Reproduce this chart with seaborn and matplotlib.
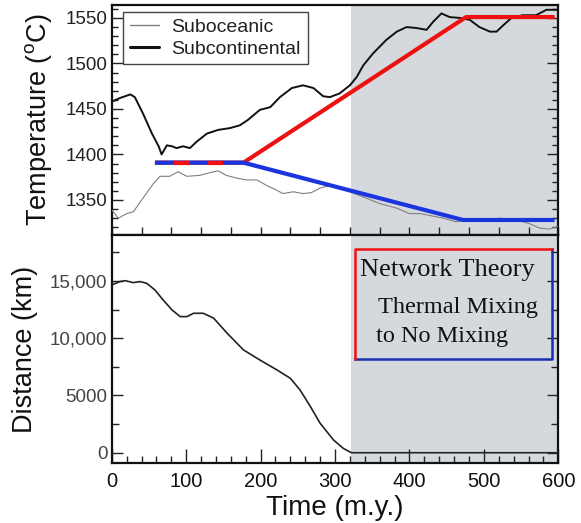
import numpy as np
import pandas as pd
import matplotlib
matplotlib.use("Agg")
import matplotlib.pyplot as plt
from matplotlib.ticker import MultipleLocator, FixedLocator
import seaborn as sns

# ---------------- data ----------------
subcont_t = [0, 11, 25, 31, 42, 54, 63, 67, 74, 81, 87, 96, 105, 114, 128, 143, 159, 172, 183,
             199, 213, 226, 242, 257, 271, 284, 293, 306, 320, 329, 338, 351, 369, 383, 396,
             409, 423, 432, 443, 454, 468, 481, 494, 508, 517, 526, 537, 552, 570, 584, 600]
subcont_T = [1458, 1462, 1466, 1463, 1445, 1423, 1409, 1400, 1410, 1409, 1407, 1409, 1407, 1414,
             1423, 1427, 1429, 1432, 1438, 1449, 1452, 1463, 1473, 1476, 1473, 1464, 1463, 1467,
             1476, 1485, 1498, 1511, 1526, 1535, 1540, 1539, 1537, 1546, 1555, 1551, 1550, 1548,
             1540, 1535, 1535, 1542, 1550, 1553, 1553, 1559, 1559]

subocean_t = [0, 9, 20, 29, 42, 56, 65, 78, 89, 101, 118, 132, 143, 154, 168, 181, 195, 208,
              221, 230, 244, 257, 268, 280, 293, 320, 342, 360, 383, 400, 414, 427, 445, 463,
              481, 504, 521, 544, 561, 575, 588, 600]
subocean_T = [1339, 1330, 1335, 1337, 1352, 1368, 1376, 1376, 1381, 1376, 1377, 1380, 1382, 1377,
              1374, 1372, 1372, 1366, 1361, 1357, 1359, 1357, 1358, 1363, 1366, 1359, 1352, 1346,
              1341, 1335, 1335, 1333, 1330, 1326, 1328, 1328, 1330, 1328, 1324, 1319, 1318, 1321]

mixing_t = [58, 177, 476, 595]          # red: upper branch
mixing_T = [1391, 1391, 1551, 1551]
nomix_t = [58, 177, 472, 595]           # blue: lower branch
nomix_T = [1391, 1391, 1328, 1328]
red_dash_t = [[83, 105], [130, 150]]    # red dashes visible on the shared flat part
red_dash_T = [[1391, 1391], [1391, 1391]]

dist_t = [0, 11, 18, 29, 38, 47, 58, 69, 81, 92, 101, 110, 123, 137, 155, 177, 199, 222, 240,
          253, 267, 280, 298, 311, 322, 400, 500, 600]
dist_km = [14660, 14950, 15030, 14860, 14950, 14800, 14220, 13350, 12470, 11890, 11890, 12180,
           12180, 11750, 10440, 8980, 8100, 7230, 6500, 5480, 4020, 2570, 1110, 385, 0, 0, 0, 0]

shade_span = (321, 600)
x_ticks = [0, 100, 200, 300, 400, 500, 600]
temp_ticks = [1350, 1400, 1450, 1500, 1550]
dist_ticks = [0, 5000, 10000, 15000]
dist_tick_labels = ["0", "5000", "10,000", "15,000"]
legend_labels = ["Suboceanic", "Subcontinental"]
box_lines = ["Network Theory", "Thermal Mixing", "to No Mixing"]

# ---------------- style ----------------
sns.set_theme(style="ticks")
plt.rcParams["font.family"] = ["Liberation Sans", "DejaVu Sans"]
plt.rcParams["mathtext.fontset"] = "custom"
plt.rcParams["mathtext.rm"] = "Liberation Sans"

RED = "#ee1111"
BLUE = "#1a35dd"
SHADE = "#d5d9dd"

fig = plt.figure(figsize=(5.81, 5.23), dpi=100)
ax1 = fig.add_axes([0.1923, 0.5507, 0.7687, 0.4398])
ax2 = fig.add_axes([0.1923, 0.1141, 0.7687, 0.4366])

for ax in (ax1, ax2):
    ax.axvspan(*shade_span, color=SHADE, lw=0, zorder=0)
    ax.set_xlim(0, 600)
    for s in ax.spines.values():
        s.set_linewidth(1.6)
        s.set_color("#111111")
    ax.tick_params(which="both", direction="in", top=False, right=True, color="#222222",
                   width=1.0)

# ---------------- top panel ----------------
sns.lineplot(x=subocean_t, y=subocean_T, ax=ax1, color="#808080", lw=0.8,
             estimator=None, sort=False, label=legend_labels[0], zorder=3)
sns.lineplot(x=subcont_t, y=subcont_T, ax=ax1, color="#111111", lw=1.4,
             estimator=None, sort=False, label=legend_labels[1], zorder=3)
sns.lineplot(x=mixing_t, y=mixing_T, ax=ax1, color=RED, lw=3.0, estimator=None,
             sort=False, zorder=4, legend=False, solid_capstyle="butt")
sns.lineplot(x=nomix_t, y=nomix_T, ax=ax1, color=BLUE, lw=3.0, estimator=None,
             sort=False, zorder=5, legend=False, solid_capstyle="butt")
for tt, TT in zip(red_dash_t, red_dash_T):
    sns.lineplot(x=tt, y=TT, ax=ax1, color=RED, lw=3.0, estimator=None, sort=False,
                 zorder=6, legend=False, solid_capstyle="butt")

ax1.set_ylim(1311.5, 1564.3)
ax1.yaxis.set_major_locator(FixedLocator(temp_ticks))
ax1.yaxis.set_minor_locator(MultipleLocator(10))
ax1.xaxis.set_major_locator(MultipleLocator(40))
ax1.tick_params(axis="x", which="major", length=6, labelbottom=False)
ax1.tick_params(axis="y", which="major", length=8, labelsize=13.5, labelcolor="#222222", pad=3)
ax1.tick_params(axis="y", which="minor", length=4)
ax1.set_xlabel("")
ax1.set_ylabel("Temperature ($^{\\rm o}$C)", fontsize=19.5, color="#111111")
ax1.yaxis.label.set_verticalalignment("center")
ax1.yaxis.set_label_coords(-0.163, 0.5)

leg = ax1.legend(loc="upper left", bbox_to_anchor=(0.0246, 0.971), borderaxespad=0,
                 fontsize=14, frameon=True, fancybox=False, handlelength=1.5,
                 handletextpad=0.65, labelspacing=0.2, borderpad=0.35)
leg.get_frame().set_edgecolor("#444444")
leg.get_frame().set_linewidth(1.0)
leg.get_frame().set_facecolor("white")
leg.get_frame().set_alpha(1)
leg.get_lines()[0].set_linewidth(1.0)
leg.get_lines()[1].set_linewidth(2.2)
for txt in leg.get_texts():
    txt.set_color("#222222")

# ---------------- bottom panel ----------------
sns.lineplot(x=dist_t, y=dist_km, ax=ax2, color="#222222", lw=1.2, estimator=None,
             sort=False, legend=False, zorder=3)
ax2.set_ylim(-927, 19020)
ax2.yaxis.set_major_locator(FixedLocator(dist_ticks))
ax2.set_yticklabels(dist_tick_labels)
ax2.yaxis.set_minor_locator(MultipleLocator(2500))
ax2.xaxis.set_major_locator(FixedLocator(x_ticks))
ax2.xaxis.set_minor_locator(MultipleLocator(20))
ax2.tick_params(axis="x", which="major", length=10, labelsize=14.5, labelcolor="#111111", pad=6)
ax2.tick_params(axis="x", which="minor", length=5)
ax2.tick_params(axis="y", which="major", length=8, labelsize=13.5, labelcolor="#444444", pad=3)
ax2.tick_params(axis="y", which="minor", length=5)
ax2.set_xlabel("Time (m.y.)", fontsize=20, color="#111111", labelpad=3)
ax2.set_ylabel("Distance (km)", fontsize=19.5, color="#111111")
ax2.yaxis.label.set_verticalalignment("center")
ax2.yaxis.set_label_coords(-0.194, 0.5)

# annotation box: red on left/top, blue on right/bottom
bx0, bx1, by0, by1 = 0.545, 0.9866, 0.4556, 0.937
ax2.plot([bx0, bx0, bx1], [by0, by1, by1], color=RED, lw=1.8, transform=ax2.transAxes,
         zorder=6, solid_capstyle="projecting")
ax2.plot([bx0, bx1, bx1], [by0, by0, by1], color="#1a2fb0", lw=1.8, transform=ax2.transAxes,
         zorder=5, solid_capstyle="projecting")
serif = ["Liberation Serif", "DejaVu Serif"]
ax2.text(0.556, 0.8204, box_lines[0], transform=ax2.transAxes, fontsize=19, family=serif,
         va="baseline", ha="left", color="#111111", zorder=7)
ax2.text(0.597, 0.6597, box_lines[1], transform=ax2.transAxes, fontsize=17.5, family=serif,
         va="baseline", ha="left", color="#111111", zorder=7)
ax2.text(0.592, 0.533, box_lines[2], transform=ax2.transAxes, fontsize=17.5, family=serif,
         va="baseline", ha="left", color="#111111", zorder=7)

fig.savefig("out.png", dpi=100)
